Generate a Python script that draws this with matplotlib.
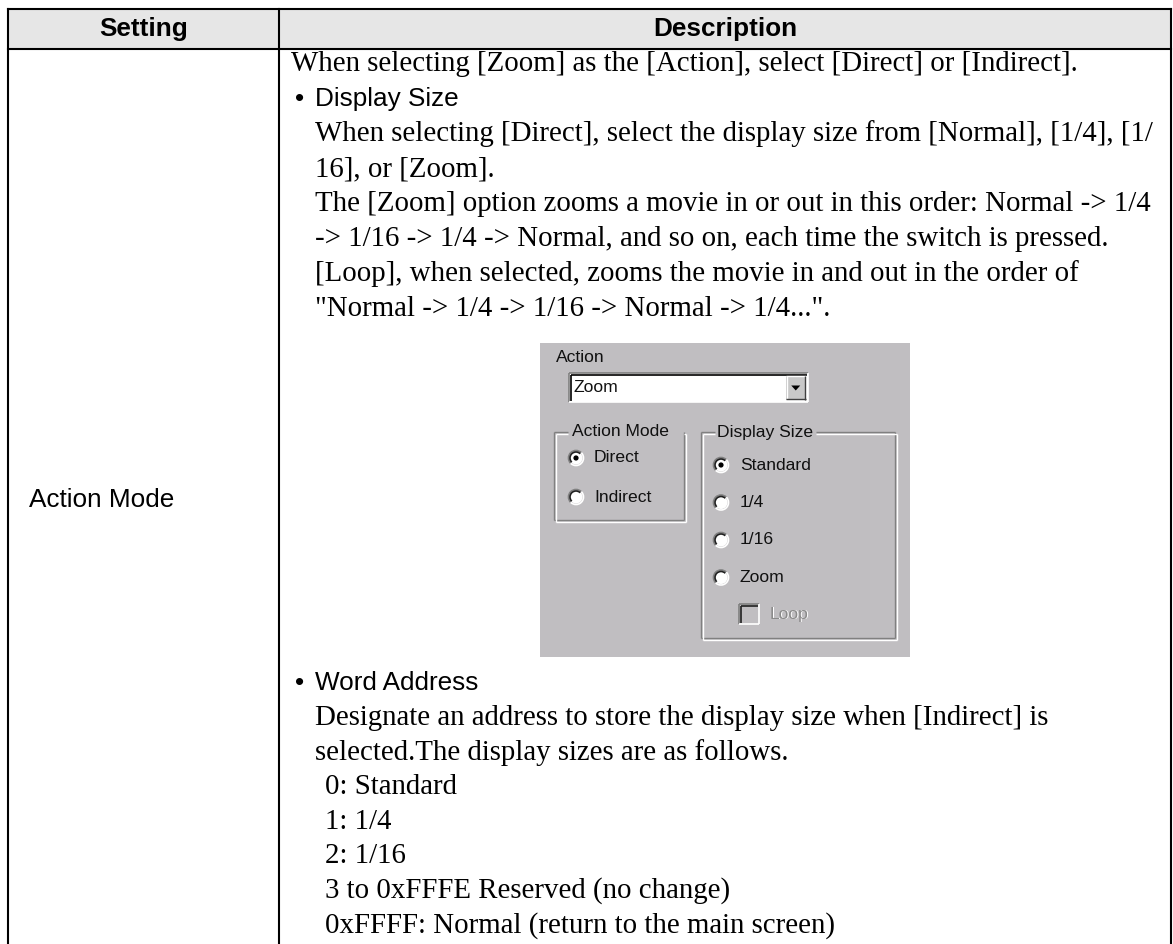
import matplotlib
matplotlib.use('Agg')
import matplotlib.pyplot as plt
from matplotlib.patches import Rectangle, Circle, Arc, Polygon

# ── table text ──
HEADERS = ['Setting', 'Description']
SETTING_NAME = 'Action Mode'

INTRO = 'When selecting [Zoom] as the [Action], select [Direct] or [Indirect].'
BULLET1_TITLE = 'Display Size'
BULLET1_LINES = [
    'When selecting [Direct], select the display size from [Normal], [1/4], [1/',
    '16], or [Zoom].',
    'The [Zoom] option zooms a movie in or out in this order: Normal -> 1/4',
    '-> 1/16 -> 1/4 -> Normal, and so on, each time the switch is pressed.',
    '[Loop], when selected, zooms the movie in and out in the order of',
    '"Normal -> 1/4 -> 1/16 -> Normal -> 1/4...".',
]
BULLET2_TITLE = 'Word Address'
BULLET2_LINES = [
    'Designate an address to store the display size when [Indirect] is',
    'selected.The display sizes are as follows.',
]
VALUE_LINES = [
    '0: Standard',
    '1: 1/4',
    '2: 1/16',
    '3 to 0xFFFE Reserved (no change)',
    '0xFFFF: Normal (return to the main screen)',
]

# ── dialog text ──
DLG_ACTION_LABEL = 'Action'
DLG_COMBO_VALUE = 'Zoom'
DLG_MODE_TITLE = 'Action Mode'
DLG_MODE_OPTIONS = ['Direct', 'Indirect']
DLG_MODE_SELECTED = 0
DLG_SIZE_TITLE = 'Display Size'
DLG_SIZE_OPTIONS = ['Standard', '1/4', '1/16', 'Zoom']
DLG_SIZE_SELECTED = 0
DLG_LOOP_LABEL = 'Loop'

W, H = 1173, 944
SERIF = 'Liberation Serif'
SANS = 'Liberation Sans'
GRAY_BG = '#c0bec1'
LW = 1.5
FS_SERIF = 20.8
FS_SANS = 18.8
FS_HEAD = 18.8
FS_DLG = 12.6

fig = plt.figure(figsize=(W / 100, H / 100), dpi=100)
ax = fig.add_axes([0, 0, 1, 1])
ax.set_xlim(0, W)
ax.set_ylim(H, 0)
ax.axis('off')

# ── table frame ──
x_left, x_mid, x_right = 8, 279, 1171
y_top, y_head = 9, 49
ax.add_patch(Rectangle((x_left, y_top), x_right - x_left, y_head - y_top,
                       facecolor='#e6e6e6', edgecolor='none', zorder=0))
ax.plot([x_left, x_right], [y_top, y_top], color='black', lw=LW)
ax.plot([x_left, x_right], [y_head, y_head], color='black', lw=LW)
for xv in (x_left, x_mid, x_right):
    ax.plot([xv, xv], [y_top, H + 5], color='black', lw=LW)

ax.text((x_left + x_mid) / 2, 36, HEADERS[0], family=SANS, weight='bold',
        fontsize=FS_HEAD, ha='center', va='baseline')
ax.text((x_mid + x_right) / 2, 36, HEADERS[1], family=SANS, weight='bold',
        fontsize=FS_HEAD, ha='center', va='baseline')
ax.text(29, 507, SETTING_NAME, family=SANS, fontsize=FS_SANS, ha='left',
        va='baseline')

# ── description text ──
TX0, TX1, TX2, BX = 291, 315, 325, 295
step = 35
ax.text(TX0, 71, INTRO, family=SERIF, fontsize=FS_SERIF, va='baseline')
ax.text(BX, 106, '\u2022', family=SANS, fontsize=FS_SANS, va='baseline')
ax.text(TX1, 106, BULLET1_TITLE, family=SANS, fontsize=FS_SANS, va='baseline')
for i, line in enumerate(BULLET1_LINES):
    ax.text(TX1, 141 + step * i, line, family=SERIF, fontsize=FS_SERIF, va='baseline')

ax.text(BX, 690, '\u2022', family=SANS, fontsize=FS_SANS, va='baseline')
ax.text(TX1, 690, BULLET2_TITLE, family=SANS, fontsize=FS_SANS, va='baseline')
step2 = 34.7
for i, line in enumerate(BULLET2_LINES):
    ax.text(TX1, 725 + step2 * i, line, family=SERIF, fontsize=FS_SERIF, va='baseline')
for i, line in enumerate(VALUE_LINES):
    ax.text(TX2, 794 + step2 * i, line, family=SERIF, fontsize=FS_SERIF, va='baseline')

# ── dialog screenshot ──
dx0, dy0, dx1, dy1 = 540, 343, 910, 657
ax.add_patch(Rectangle((dx0, dy0), dx1 - dx0, dy1 - dy0, facecolor=GRAY_BG,
                       edgecolor='none', zorder=1))


def hline(x0, x1, y, c, lw=1.0):
    ax.plot([x0, x1], [y, y], color=c, lw=lw, zorder=3, solid_capstyle='butt')


def vline(x, y0, y1, c, lw=1.0):
    ax.plot([x, x], [y0, y1], color=c, lw=lw, zorder=3, solid_capstyle='butt')


def dtext(x, y, s, color='#101010'):
    ax.text(x, y, s, family=SANS, fontsize=FS_DLG, color=color,
            ha='left', va='center', zorder=4)


def etched_group(x0, y0, x1, y1, gap0, gap1):
    for off, c in ((0, '#808080'), (1.5, '#ffffff')):
        hline(x0 + off, gap0, y0 + off, c)
        hline(gap1, x1 + off, y0 + off, c)
        vline(x0 + off, y0 + off, y1 + off, c)
        vline(x1 + off, y0 + off, y1 + off, c)
        hline(x0 + off, x1 + off, y1 + off, c)


def radio(cx, cy, selected):
    ax.add_patch(Circle((cx, cy), 6.5, facecolor='white', edgecolor='none', zorder=3))
    ax.add_patch(Arc((cx, cy), 15, 15, theta1=135, theta2=315,
                     color='#808080', lw=1.2, zorder=4))
    ax.add_patch(Arc((cx, cy), 12, 12, theta1=135, theta2=315,
                     color='#202020', lw=1.2, zorder=4))
    ax.add_patch(Arc((cx, cy), 15, 15, theta1=315, theta2=135,
                     color='#ffffff', lw=1.2, zorder=4))
    if selected:
        ax.add_patch(Circle((cx, cy), 2.6, facecolor='black', edgecolor='none', zorder=5))


dtext(556, 358, DLG_ACTION_LABEL)

# combo box
cx0, cy0, cx1, cy1 = 569, 373, 808, 402
ax.add_patch(Rectangle((cx0, cy0), cx1 - cx0, cy1 - cy0, facecolor='white',
                       edgecolor='none', zorder=2))
hline(cx0, cx1, cy0, '#808080', 1.2)
vline(cx0, cy0, cy1, '#808080', 1.2)
hline(cx0 + 1.5, cx1 - 1.5, cy0 + 1.5, '#000000', 1.2)
vline(cx0 + 1.5, cy0 + 1.5, cy1 - 1.5, '#000000', 1.2)
hline(cx0, cx1, cy1, '#ffffff', 1.2)
vline(cx1, cy0, cy1, '#ffffff', 1.2)
dtext(573, 388, DLG_COMBO_VALUE)
bx0, by0, bx1, by1 = 786, 375.5, 805.5, 399.5
ax.add_patch(Rectangle((bx0, by0), bx1 - bx0, by1 - by0, facecolor='#c8c8c8',
                       edgecolor='none', zorder=3))
hline(bx0, bx1, by0 + 0.5, '#ffffff')
vline(bx0 + 0.5, by0, by1, '#ffffff')
hline(bx0, bx1, by1 - 0.5, '#404040')
vline(bx1 - 0.5, by0, by1, '#404040')
tri_cx, tri_cy = (bx0 + bx1) / 2, (by0 + by1) / 2
ax.add_patch(Polygon([[tri_cx - 4.5, tri_cy - 2], [tri_cx + 4.5, tri_cy - 2],
                      [tri_cx, tri_cy + 3]], closed=True, facecolor='black',
                     edgecolor='none', zorder=4))

# Action Mode group
etched_group(554, 432, 684, 520, 568, 684)
dtext(572, 432, DLG_MODE_TITLE)
for i, opt in enumerate(DLG_MODE_OPTIONS):
    yy = 458 + 39 * i
    radio(576, yy, i == DLG_MODE_SELECTED)
    dtext(594, yy, opt)

# Display Size group
etched_group(701, 432, 895, 638, 715, 816)
dtext(717, 432, DLG_SIZE_TITLE)
for i, opt in enumerate(DLG_SIZE_OPTIONS):
    yy = 465 + 37.5 * i
    radio(721, yy, i == DLG_SIZE_SELECTED)
    dtext(740, yy, opt)

# disabled Loop checkbox
lx0, ly0, lx1, ly1 = 739, 604, 759, 624
hline(lx0, lx1, ly0, '#808080', 1.2)
vline(lx0, ly0, ly1, '#808080', 1.2)
hline(lx0 + 1.5, lx1 - 1.5, ly0 + 1.5, '#202020', 1.2)
vline(lx0 + 1.5, ly0 + 1.5, ly1 - 1.5, '#202020', 1.2)
hline(lx0, lx1, ly1, '#ffffff', 1.2)
vline(lx1, ly0, ly1, '#ffffff', 1.2)
ax.text(770 + 1, 614 + 1, DLG_LOOP_LABEL, family=SANS, fontsize=FS_DLG,
        color='white', va='center', zorder=4)
dtext(770, 614, DLG_LOOP_LABEL, color='#8a8a8a')

fig.savefig('out.png', dpi=100)
